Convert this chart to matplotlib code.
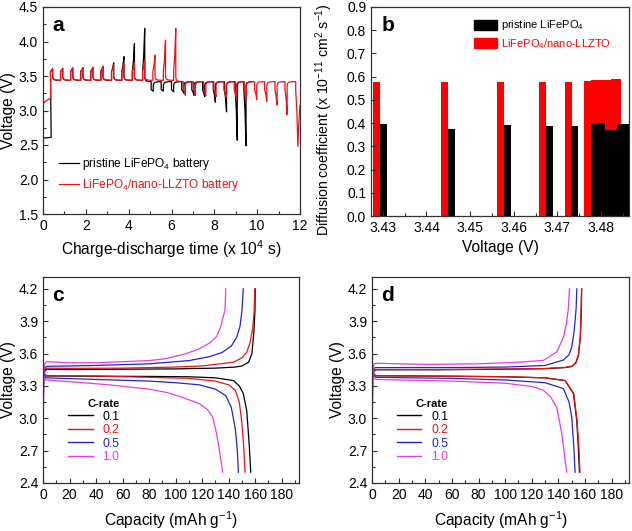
import matplotlib
matplotlib.use('Agg')
import matplotlib.pyplot as plt
from matplotlib.ticker import MultipleLocator, FormatStrFormatter
from matplotlib.patches import Patch
from matplotlib.lines import Line2D

plt.rcParams['font.family'] = ['Liberation Sans', 'DejaVu Sans']
plt.rcParams['mathtext.default'] = 'regular'

RED = '#e8141a'
BLUE = '#2323d8'
MAG = '#e63ce6'
BARRED = '#ff0000'

# ---------------- Panel a : GITT data (x 10^4 s, V) ----------------
bk_start_t = [0.0, 0.38]
bk_start_v = [2.60, 2.61]
bk_charge_t = [0.45, 0.92, 1.39, 1.86, 2.33, 2.80, 3.30, 3.78, 4.27, 4.75]
bk_charge_peak = [3.60, 3.61, 3.61, 3.62, 3.62, 3.64, 3.69, 3.78, 3.97, 4.19]
bk_dis_t = [5.15, 5.62, 6.10, 6.58, 7.05, 7.55, 8.05, 8.57, 9.07, 9.48]
bk_dis_min = [3.28, 3.28, 3.27, 3.25, 3.22, 3.20, 3.12, 2.98, 2.57, 2.49]

rd_start_t = [0.0, 0.1, 0.2, 0.3, 0.36]
rd_start_v = [3.10, 3.13, 3.15, 3.17, 3.18]
rd_charge_t = [0.45, 0.92, 1.39, 1.86, 2.33, 2.80, 3.30, 3.78, 4.27, 4.75, 5.23, 5.72, 6.20]
rd_charge_peak = [3.61, 3.61, 3.62, 3.62, 3.63, 3.64, 3.66, 3.68, 3.70, 3.74, 3.80, 4.02, 4.19]
rd_dis_t = [6.65, 7.12, 7.60, 8.08, 8.55, 9.03, 9.50, 9.98, 10.45, 10.93, 11.40, 11.90]
rd_dis_min = [3.22, 3.22, 3.21, 3.20, 3.19, 3.18, 3.17, 3.16, 3.13, 3.08, 2.94, 2.48]
rd_tail_t = [11.95, 12.0]
rd_tail_v = [2.85, 3.07]

CH_REST = 3.437
DIS_REST = 3.418

# ---------------- Panel b : diffusion coefficients ----------------
bk_b_v = [3.4302, 3.4457, 3.4585, 3.4681, 3.4740, 3.4785, 3.4800, 3.4815, 3.4830, 3.4845, 3.4857]
bk_b_d = [0.395, 0.376, 0.394, 0.386, 0.389, 0.395, 0.401, 0.369, 0.369, 0.398, 0.398]
rd_b_v = [3.4285, 3.4441, 3.4569, 3.4665, 3.4725, 3.4770, 3.4785, 3.4800, 3.4815, 3.4830, 3.4838]
rd_b_d = [0.577, 0.579, 0.575, 0.575, 0.577, 0.583, 0.584, 0.585, 0.586, 0.589, 0.592]
BAR_W = 0.0016

# ---------------- Panel c : pristine rate curves (mAh/g, V) ----------------
c_rates = ['0.1', '0.2', '0.5', '1.0']
c_ch_cap = [
    [0, 0.5, 1.5, 3, 20, 60, 100, 130, 145, 150, 155, 157.5, 159, 159.8, 160],
    [0, 0.5, 1.5, 3, 20, 60, 100, 120, 143.5, 150, 153.6, 156, 158, 159.2, 159.7],
    [0, 0.5, 1.5, 3, 20, 40, 80, 110, 125, 135, 142, 146, 148.5, 150, 151],
    [0, 0.5, 1.5, 3, 20, 40, 60, 80, 93, 108, 118, 126, 131, 134, 136, 137.2, 137.8],
]
c_ch_v = [
    [3.00, 3.38, 3.45, 3.455, 3.452, 3.455, 3.458, 3.465, 3.475, 3.485, 3.52, 3.60, 3.80, 4.00, 4.20],
    [2.65, 3.40, 3.46, 3.465, 3.463, 3.465, 3.475, 3.485, 3.52, 3.56, 3.61, 3.70, 3.82, 4.00, 4.20],
    [2.78, 3.40, 3.47, 3.482, 3.485, 3.49, 3.505, 3.535, 3.57, 3.61, 3.67, 3.75, 3.85, 4.00, 4.20],
    [2.90, 3.42, 3.51, 3.525, 3.515, 3.515, 3.525, 3.535, 3.553, 3.60, 3.645, 3.70, 3.76, 3.85, 3.95, 4.00, 4.20],
]
c_dis_cap = [
    [0, 0.5, 2, 40, 80, 110, 130, 143.5, 148, 151, 153.6, 155.5, 156.6],
    [0, 0.5, 2, 40, 80, 110, 130, 140, 145, 148, 150, 151.5, 152.3],
    [0, 0.5, 2, 40, 80, 100, 118, 130, 137.8, 142, 145, 146.5, 147.3],
    [0, 0.5, 2, 20, 50, 80, 93, 105, 118, 124, 128, 131, 133, 135.5],
]
c_dis_v = [
    [3.55, 3.42, 3.392, 3.39, 3.388, 3.385, 3.375, 3.35, 3.30, 3.23, 3.07, 2.75, 2.50],
    [3.68, 3.43, 3.397, 3.392, 3.38, 3.37, 3.345, 3.31, 3.26, 3.15, 2.95, 2.70, 2.50],
    [3.55, 3.41, 3.375, 3.36, 3.345, 3.33, 3.31, 3.27, 3.21, 3.10, 2.90, 2.70, 2.50],
    [3.60, 3.39, 3.355, 3.34, 3.31, 3.27, 3.24, 3.195, 3.135, 3.08, 3.01, 2.85, 2.70, 2.50],
]

# ---------------- Panel d : LLZTO-coated rate curves ----------------
d_ch_cap = [
    [0, 0.5, 1.5, 3, 50, 100, 130, 145, 150, 153, 155, 156.5, 157.2, 157.5],
    [0, 0.5, 1.5, 3, 50, 100, 130, 145, 150, 153, 155, 156.4, 157.0, 157.3],
    [0, 0.5, 1.5, 3, 60, 100, 130, 143.75, 148, 150, 151.5, 152.5, 153.3, 153.8],
    [0, 0.5, 1.5, 3, 40, 80, 110, 128.75, 138.75, 143.75, 146, 147.3, 148.3],
]
d_ch_v = [
    [2.90, 3.38, 3.445, 3.45, 3.45, 3.455, 3.46, 3.47, 3.48, 3.51, 3.58, 3.75, 4.00, 4.20],
    [2.60, 3.38, 3.445, 3.452, 3.452, 3.457, 3.462, 3.472, 3.483, 3.515, 3.59, 3.76, 4.00, 4.20],
    [2.72, 3.40, 3.465, 3.47, 3.47, 3.475, 3.49, 3.54, 3.59, 3.66, 3.78, 3.90, 4.02, 4.20],
    [2.85, 3.42, 3.505, 3.51, 3.50, 3.505, 3.52, 3.537, 3.615, 3.75, 3.88, 4.00, 4.20],
]
d_dis_cap = [
    [0, 0.5, 3, 60, 100, 130, 145, 151.25, 153.75, 155, 155.8],
    [0, 0.5, 3, 60, 100, 130, 145, 151.5, 154, 155.4, 156.2],
    [0, 0.5, 3, 60, 100, 130, 143.75, 148, 150, 151.5, 152.5],
    [0, 0.5, 3, 60, 100, 120, 128.75, 134, 138.75, 142.5, 145, 146.3],
]
d_dis_v = [
    [3.50, 3.41, 3.395, 3.39, 3.385, 3.375, 3.35, 3.23, 2.98, 2.72, 2.50],
    [3.85, 3.42, 3.395, 3.39, 3.385, 3.375, 3.35, 3.23, 2.98, 2.72, 2.50],
    [3.65, 3.40, 3.38, 3.37, 3.355, 3.33, 3.275, 3.15, 3.01, 2.75, 2.50],
    [3.55, 3.38, 3.36, 3.345, 3.325, 3.295, 3.26, 3.20, 3.10, 2.86, 2.62, 2.50],
]
rate_colors = ['black', RED, BLUE, MAG]

# ---------------- helpers ----------------
RELAX = [(0.03, 0.45), (0.08, 0.2), (0.16, 0.07), (0.26, 0.02)]


def gitt_trace(start_t, start_v, ch_t, ch_pk, dis_t, dis_min, tail_t=None, tail_v=None, pulse=0.1):
    t, v = list(start_t), list(start_v)
    for i, (tp, pk) in enumerate(zip(ch_t, ch_pk)):
        rest = CH_REST
        jump = min(pk - 0.02, rest + 0.13)
        t += [tp - pulse, tp - pulse, tp - pulse * 0.5, tp, tp]
        v += [rest, jump, jump + (pk - jump) * 0.35, pk, rest + 0.05]
        after = DIS_REST if i == len(ch_t) - 1 else rest
        for dt, f in RELAX:
            t.append(tp + dt)
            v.append(after + 0.05 * f)
    for i, (td, m) in enumerate(zip(dis_t, dis_min)):
        rest = DIS_REST
        drop = max(m + 0.02, rest - 0.12)
        t += [td - pulse, td - pulse, td - pulse * 0.5, td]
        v += [rest, drop, drop + (m - drop) * 0.35, m]
        if i == len(dis_t) - 1 and tail_t is not None:
            t += list(tail_t)
            v += list(tail_v)
        else:
            t.append(td)
            v.append(rest - 0.05)
            for dt, f in RELAX:
                t.append(td + dt)
                v.append(rest - 0.05 * f)
    return t, v


TICK_FS = 10
LABEL_FS = 11.2


def style_axes(ax):
    for s in ax.spines.values():
        s.set_linewidth(0.9)
        s.set_color('#333333')
    ax.tick_params(which='both', direction='in', top=False, right=False,
                   labelsize=TICK_FS, width=0.8, colors='#333333', labelcolor='black')
    ax.tick_params(which='major', length=3.5)
    ax.tick_params(which='minor', length=2)


fig = plt.figure(figsize=(6.32, 5.31), dpi=100)
W, H = 632.0, 531.0


def add_axes(l, r, t, b):
    return fig.add_axes([l / W, 1 - b / H, (r - l) / W, (b - t) / H])


ax_a = add_axes(43, 300, 7, 214)
ax_b = add_axes(371, 629, 7, 216)
ax_c = add_axes(43, 299, 277, 483)
ax_d = add_axes(372, 629, 277, 483)

# ---- panel a ----
bt, bv = gitt_trace(bk_start_t, bk_start_v, bk_charge_t, bk_charge_peak, bk_dis_t, bk_dis_min)
rt, rv = gitt_trace(rd_start_t, rd_start_v, rd_charge_t, rd_charge_peak, rd_dis_t, rd_dis_min,
                    rd_tail_t, rd_tail_v)
ax_a.plot(bt, bv, color='black', lw=0.9, label='pristine LiFePO$_4$ battery')
ax_a.plot(rt, rv, color=RED, lw=0.9, label='LiFePO$_4$/nano-LLZTO battery')
ax_a.set_xlim(0, 12)
ax_a.set_ylim(1.5, 4.5)
ax_a.xaxis.set_major_locator(MultipleLocator(2))
ax_a.xaxis.set_minor_locator(MultipleLocator(1))
ax_a.yaxis.set_major_locator(MultipleLocator(0.5))
ax_a.yaxis.set_minor_locator(MultipleLocator(0.25))
ax_a.yaxis.set_major_formatter(FormatStrFormatter('%.1f'))
style_axes(ax_a)
ax_a.set_xlabel('Charge-discharge time (x 10$^4$ s)', fontsize=LABEL_FS, labelpad=4)
ax_a.set_ylabel('Voltage (V)', fontsize=LABEL_FS, labelpad=2)
ax_a.text(0.035, 0.955, 'a', transform=ax_a.transAxes, fontsize=15, fontweight='bold', va='top')
ax_a.legend(loc='center left', bbox_to_anchor=(0.062, 0.19), frameon=False, fontsize=8.6,
            handlelength=1.7, handletextpad=0.25, labelspacing=0.4,
            labelcolor=['black', RED], borderaxespad=0, borderpad=0)

# ---- panel b ----
ax_b.bar(rd_b_v, rd_b_d, width=BAR_W, color=BARRED, linewidth=0)
ax_b.bar(bk_b_v, bk_b_d, width=BAR_W, color='black', linewidth=0)
ax_b.set_xlim(3.4273, 3.4864)
ax_b.set_ylim(0, 0.9)
ax_b.xaxis.set_major_locator(MultipleLocator(0.01))
ax_b.xaxis.set_minor_locator(MultipleLocator(0.005))
ax_b.yaxis.set_major_locator(MultipleLocator(0.1))
ax_b.xaxis.set_major_formatter(FormatStrFormatter('%.2f'))
ax_b.yaxis.set_major_formatter(FormatStrFormatter('%.1f'))
style_axes(ax_b)
ax_b.set_xlabel('Voltage (V)', fontsize=LABEL_FS, labelpad=4)
ax_b.set_ylabel('Diffusion coefficient (x 10$^{-11}$ cm$^2$ s$^{-1}$)', fontsize=10.2)
ax_b.yaxis.set_label_coords(-0.14, 0.462)
ax_b.text(0.04, 0.955, 'b', transform=ax_b.transAxes, fontsize=15, fontweight='bold', va='top')
ax_b.legend(handles=[Patch(color='black', label='pristine LiFePO$_4$'),
                     Patch(color=BARRED, label='LiFePO$_4$/nano-LLZTO')],
            loc='center left', bbox_to_anchor=(0.399, 0.868), frameon=False, fontsize=8,
            handlelength=2.1, handleheight=1.05, handletextpad=0.3, labelspacing=0.4,
            labelcolor=['black', BARRED], borderaxespad=0, borderpad=0)

# ---- panels c, d ----
for ax, chc, chv, dcc, dcv, letter, lx in [
        (ax_c, c_ch_cap, c_ch_v, c_dis_cap, c_dis_v, 'c', 0.098),
        (ax_d, d_ch_cap, d_ch_v, d_dis_cap, d_dis_v, 'd', 0.097)]:
    for i in range(4):
        ax.plot(chc[i], chv[i], color=rate_colors[i], lw=0.9, label=c_rates[i])
        ax.plot(dcc[i], dcv[i], color=rate_colors[i], lw=0.9)
    ax.set_xlim(0, 193)
    ax.set_ylim(2.4, 4.31)
    ax.xaxis.set_major_locator(MultipleLocator(20))
    ax.xaxis.set_minor_locator(MultipleLocator(10))
    ax.yaxis.set_major_locator(MultipleLocator(0.3))
    ax.yaxis.set_minor_locator(MultipleLocator(0.15))
    ax.yaxis.set_major_formatter(FormatStrFormatter('%.1f'))
    style_axes(ax)
    ax.set_xlabel('Capacity (mAh g$^{-1}$)', fontsize=LABEL_FS, labelpad=5)
    ax.set_ylabel('Voltage (V)', fontsize=LABEL_FS, labelpad=2)
    ax.text(0.035, 0.955, letter, transform=ax.transAxes, fontsize=15, fontweight='bold', va='top')
    handles = [Line2D([], [], color=c, lw=1.0) for c in rate_colors]
    leg = ax.legend(handles, c_rates, loc='center left', bbox_to_anchor=(lx, 0.252),
                    frameon=False, fontsize=8.8, title='C-rate', handlelength=2.0,
                    handletextpad=0.8, labelspacing=0.12, labelcolor=rate_colors,
                    borderaxespad=0, borderpad=0,
                    title_fontproperties={'weight': 'bold', 'size': 8})
    leg._legend_box.align = 'right'

fig.savefig('out.png', dpi=100)
